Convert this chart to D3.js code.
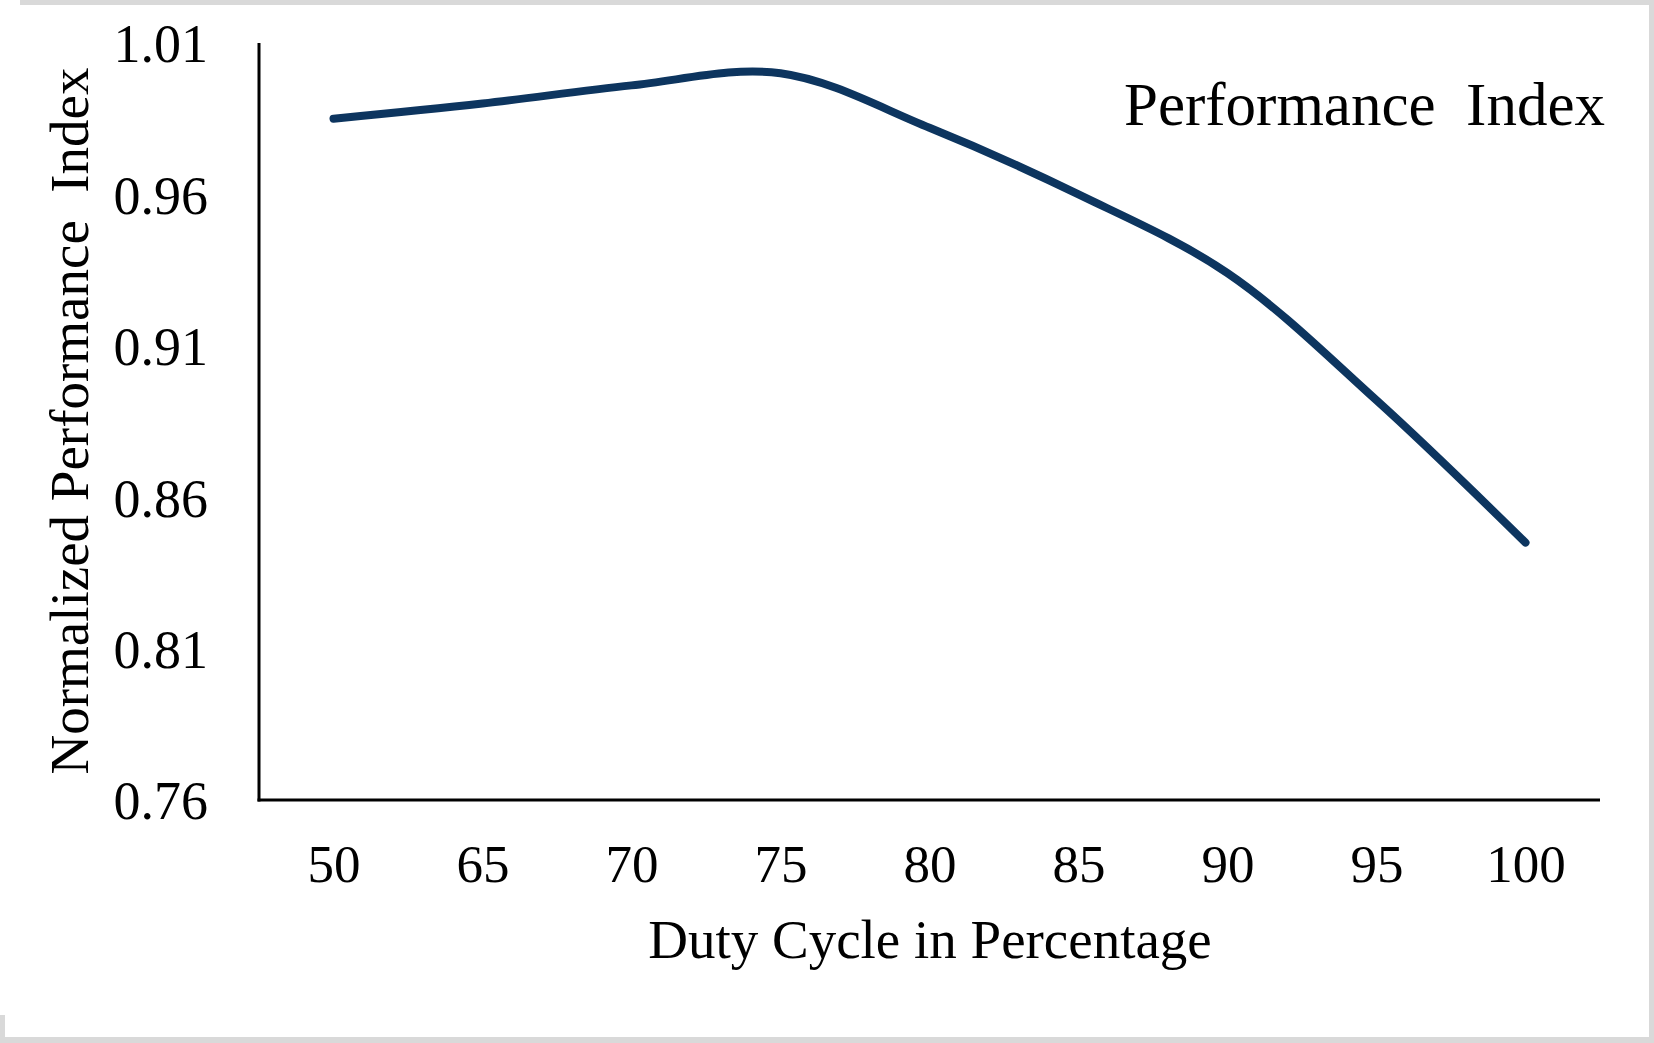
<!DOCTYPE html>
<html>
<head>
<meta charset="utf-8">
<script src="https://cdn.jsdelivr.net/npm/d3@7"></script>
<style>
  body { margin: 0; background: #fff; }
  text { font-family: "Liberation Serif", "Times New Roman", serif; fill: #000; }
</style>
</head>
<body>
<script>
var w = 1654, h = 1043;

var dutyCycle = ["50", "65", "70", "75", "80", "85", "90", "95", "100"];
var perfIndex = [0.985, 0.990, 0.996, 1.000, 0.982, 0.960, 0.934, 0.892, 0.845];
var yTicks = [0.76, 0.81, 0.86, 0.91, 0.96, 1.01];

var svg = d3.select("body")
    .append("svg")
    .attr("width", w)
    .attr("height", h);

// light grey frame from the screenshot
svg.append("rect").attr("x", 20).attr("y", 0).attr("width", w - 20).attr("height", 5).attr("fill", "#d9d9d9");
svg.append("rect").attr("x", w - 5).attr("y", 0).attr("width", 5).attr("height", h).attr("fill", "#d9d9d9");
svg.append("rect").attr("x", 0).attr("y", h - 6).attr("width", w).attr("height", 6).attr("fill", "#d9d9d9");
svg.append("rect").attr("x", 0).attr("y", h - 28).attr("width", 5).attr("height", 28).attr("fill", "#d9d9d9");

var xScale = d3.scalePoint()
    .domain(dutyCycle)
    .range([259, 1600])
    .padding(0.5);

var yScale = d3.scaleLinear()
    .domain([0.76, 1.01])
    .range([800, 43]);

// axes lines
svg.append("line")
    .attr("x1", 259).attr("x2", 259)
    .attr("y1", yScale(1.01)).attr("y2", 801.5)
    .attr("stroke", "#000").attr("stroke-width", 3);

svg.append("line")
    .attr("x1", 257.5).attr("x2", 1600)
    .attr("y1", 800).attr("y2", 800)
    .attr("stroke", "#000").attr("stroke-width", 3);

var xAxis = d3.axisBottom(xScale).tickSize(0).tickPadding(0);
var gx = svg.append("g")
    .attr("transform", "translate(0,800)")
    .call(xAxis);
gx.select(".domain").remove();
gx.selectAll("text")
    .attr("y", 82)
    .attr("dy", 0)
    .style("font-size", "53px")
    .style("font-family", "'Liberation Serif', serif");

var yAxis = d3.axisLeft(yScale)
    .tickValues(yTicks)
    .tickFormat(d3.format(".2f"))
    .tickSize(0);
var gy = svg.append("g")
    .attr("transform", "translate(208,0)")
    .call(yAxis);
gy.select(".domain").remove();
gy.selectAll("text")
    .attr("x", 0)
    .attr("dy", "0.35em")
    .style("font-size", "54px")
    .style("font-family", "'Liberation Serif', serif");

var line = d3.line()
    .x((d, i) => xScale(dutyCycle[i]))
    .y(d => yScale(d))
    .curve(d3.curveCatmullRom.alpha(0.5));

svg.append("path")
    .datum(perfIndex)
    .attr("d", line)
    .attr("fill", "none")
    .attr("stroke", "#0d355f")
    .attr("stroke-width", 8)
    .attr("stroke-linecap", "round");

svg.append("text")
    .text("Duty Cycle in Percentage")
    .attr("x", 930)
    .attr("y", 958)
    .attr("text-anchor", "middle")
    .style("font-size", "55px");

svg.append("text")
    .text("Normalized Performance\u00a0 Index")
    .attr("transform", "translate(88,421) rotate(-90)")
    .attr("text-anchor", "middle")
    .style("font-size", "55px");

svg.append("text")
    .text("Performance\u00a0 Index")
    .attr("x", 1605)
    .attr("y", 125)
    .attr("text-anchor", "end")
    .style("font-size", "61px");
</script>
</body>
</html>
